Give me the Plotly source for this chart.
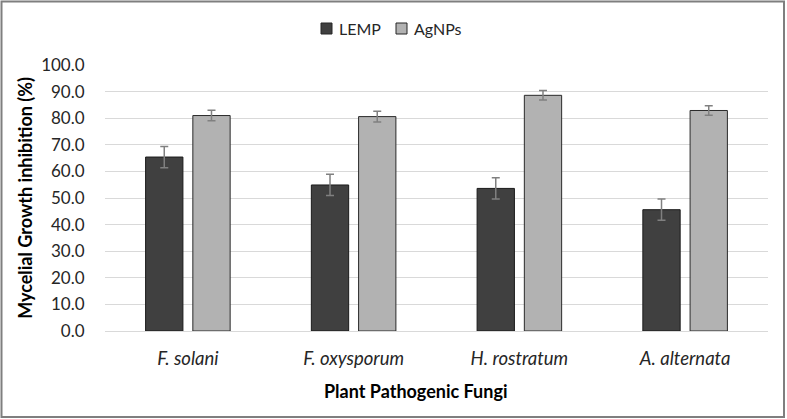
import plotly.graph_objects as go

categories = ["F. solani", "F. oxysporum", "H. rostratum", "A. alternata"]
lemp = [65.4, 54.9, 53.6, 45.6]
lemp_err = [4.0, 4.0, 4.0, 4.0]
agnps = [81.0, 80.6, 88.6, 82.9]
agnps_err = [2.0, 2.0, 1.8, 1.8]
y_ticks = [0, 10, 20, 30, 40, 50, 60, 70, 80, 90, 100]
series_names = ["LEMP", "AgNPs"]
series_colors = ["#404040", "#b2b2b2"]

FONT = "Lato"
W, H = 787, 419
ml, mr, mt, mb = 105, 19, 65, 88
pw = W - ml - mr
ph = H - mt - mb


def px_x(x):
    return (x - ml) / pw


def px_y(y):
    return (H - mb - y) / ph


fig = go.Figure()
for name, vals, errs, col, lc in [
    (series_names[0], lemp, lemp_err, series_colors[0], "#1a1a1a"),
    (series_names[1], agnps, agnps_err, series_colors[1], "#2a2a2a"),
]:
    fig.add_trace(go.Bar(
        name=name, x=categories, y=vals, showlegend=False,
        marker=dict(color=col, line=dict(color=lc, width=1)),
        error_y=dict(type="data", array=errs, color="#808080", thickness=1.5, width=4),
    ))

# outer frame
fig.add_shape(type="rect", xref="paper", yref="paper",
              x0=px_x(1.5), x1=px_x(W - 3), y0=px_y(H - 2), y1=px_y(1.5),
              line=dict(color="#7f7f7f", width=2), fillcolor="rgba(0,0,0,0)")

# legend (manual, compact like the reference)
leg_items = [(321, 337), (396, 412)]
for (sx, tx), name, col in zip(leg_items, series_names, series_colors):
    fig.add_shape(type="rect", xref="paper", yref="paper",
                  x0=px_x(sx), x1=px_x(sx + 11), y0=px_y(34), y1=px_y(23),
                  line=dict(color="#262626", width=1), fillcolor=col)
    fig.add_annotation(xref="paper", yref="paper", x=px_x(tx), y=px_y(28.5),
                       text=name, showarrow=False, xanchor="left", yanchor="middle",
                       font=dict(family=FONT, size=16, color="#262626"))

# x-axis title (offset left of plot centre as in the reference)
fig.add_annotation(xref="paper", yref="paper", x=px_x(415), y=px_y(391),
                   text="<b>Plant Pathogenic Fungi</b>", showarrow=False,
                   xanchor="center", yanchor="middle",
                   font=dict(family=FONT, size=18, color="#000000"))

fig.update_layout(
    width=W, height=H,
    margin=dict(l=ml, r=mr, t=mt, b=mb),
    paper_bgcolor="white", plot_bgcolor="white",
    barmode="group", bargap=0.43, bargroupgap=0.21,
    font=dict(family=FONT, size=15, color="#262626"),
    showlegend=False,
    xaxis=dict(
        tickvals=categories,
        ticktext=["<i>" + c + "</i>" for c in categories],
        tickfont=dict(size=18.5, color="#262626"),
        showline=True, linecolor="#d9d9d9", linewidth=1,
        ticks="outside", ticklen=11, tickcolor="rgba(0,0,0,0)",
    ),
    yaxis=dict(
        range=[0, 100], tickvals=y_ticks,
        ticktext=[f"{v:.1f}" for v in y_ticks],
        tickfont=dict(size=17, color="#262626"),
        gridcolor="#d9d9d9", gridwidth=1, zeroline=False, showline=False,
        title=dict(text="<b>Mycelial Growth inhibition (%)</b>", font=dict(size=18, color="#000000"), standoff=3),
        ticks="outside", ticklen=16, tickcolor="rgba(0,0,0,0)",
    ),
)
fig.write_html("out.html", config={"displayModeBar": False},
               post_script="document.body.style.margin='0';document.body.style.padding='0';")
